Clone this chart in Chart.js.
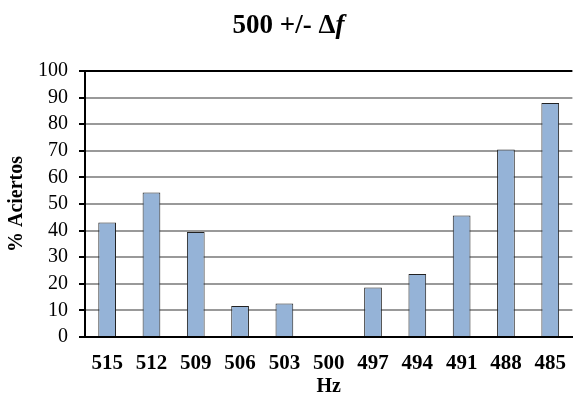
<!DOCTYPE html>
<html>
<head>
<meta charset="utf-8">
<script src="https://cdn.jsdelivr.net/npm/chart.js@4"></script>
<style>
  html, body { margin: 0; padding: 0; background: #fff; overflow: hidden; }
  #wrap { position: relative; width: 577px; height: 404px; overflow: hidden; }
  #c { position: absolute; left: 0; top: 0; }
</style>
</head>
<body>
<div id="wrap"><canvas id="c" width="580" height="404"></canvas></div>
<script>
const categories = ['515', '512', '509', '506', '503', '500', '497', '494', '491', '488', '485'];
const aciertos = [43.0, 54.3, 39.5, 11.7, 12.6, 0, 18.6, 23.7, 45.7, 70.5, 88.0];
const yTicks = [0, 10, 20, 30, 40, 50, 60, 70, 80, 90, 100];
const titleMain = '500 +/- \u0394';
const titleItalic = 'f';
const xTitle = 'Hz';
const yTitle = '% Aciertos';

const serif = '"Liberation Serif", "Times New Roman", serif';

const titlePlugin = {
  id: 'mixedTitle',
  afterDraw(chart) {
    const ctx = chart.ctx;
    ctx.save();
    ctx.fillStyle = '#000';
    ctx.textBaseline = 'alphabetic';
    const f1 = 'bold 27px ' + serif;
    const f2 = 'italic bold 27px ' + serif;
    ctx.font = f1;
    const w1 = ctx.measureText(titleMain).width;
    ctx.font = f2;
    const w2 = ctx.measureText(titleItalic).width;
    const x0 = 288.5 - (w1 + w2) / 2;
    const y = 33;
    ctx.font = f1;
    ctx.textAlign = 'left';
    ctx.fillText(titleMain, x0, y);
    ctx.font = f2;
    ctx.fillText(titleItalic, x0 + w1, y);
    ctx.restore();
  }
};

new Chart(document.getElementById('c'), {
  type: 'bar',
  data: {
    labels: categories,
    datasets: [{
      data: aciertos,
      backgroundColor: '#95B3D7',
      borderColor: '#222222',
      borderWidth: 1,
      borderSkipped: 'bottom',
      barPercentage: 0.4,
      categoryPercentage: 1.0
    }]
  },
  options: {
    responsive: false,
    animation: false,
    devicePixelRatio: 1,
    layout: { padding: { top: 71, right: 0, left: 0, bottom: 0 } },
    plugins: {
      legend: { display: false },
      title: { display: false },
      tooltip: { enabled: false }
    },
    scales: {
      x: {
        offset: true,
        grid: { display: false, drawTicks: false },
        border: { display: true, color: '#000', width: 2 },
        ticks: {
          color: '#000',
          padding: 14,
          maxRotation: 0,
          autoSkip: false,
          font: { family: serif, size: 21, weight: 'bold' }
        },
        title: {
          display: true,
          text: xTitle,
          color: '#000',
          font: { family: serif, size: 20, weight: 'bold' },
          padding: { top: 0, bottom: 5 }
        },
        afterFit(scale) { scale.height = 67; }
      },
      y: {
        min: 0,
        max: 100,
        afterBuildTicks(scale) { scale.ticks = yTicks.map(v => ({ value: v })); },
        grid: {
          color: (c) => (c.tick && c.tick.value === 100) ? '#000' : '#999999',
          lineWidth: 2,
          drawTicks: true,
          tickLength: 6,
          tickColor: '#000',
          tickWidth: 2
        },
        border: { display: true, color: '#000', width: 2 },
        ticks: {
          color: '#000',
          padding: 11,
          autoSkip: false,
          font: { family: serif, size: 20 }
        },
        title: {
          display: true,
          text: yTitle,
          color: '#000',
          font: { family: serif, size: 20, weight: 'bold' },
          padding: { top: 5, bottom: 0 }
        },
        afterFit(scale) { scale.width = 85; }
      }
    }
  },
  plugins: [titlePlugin]
});
</script>
</body>
</html>
